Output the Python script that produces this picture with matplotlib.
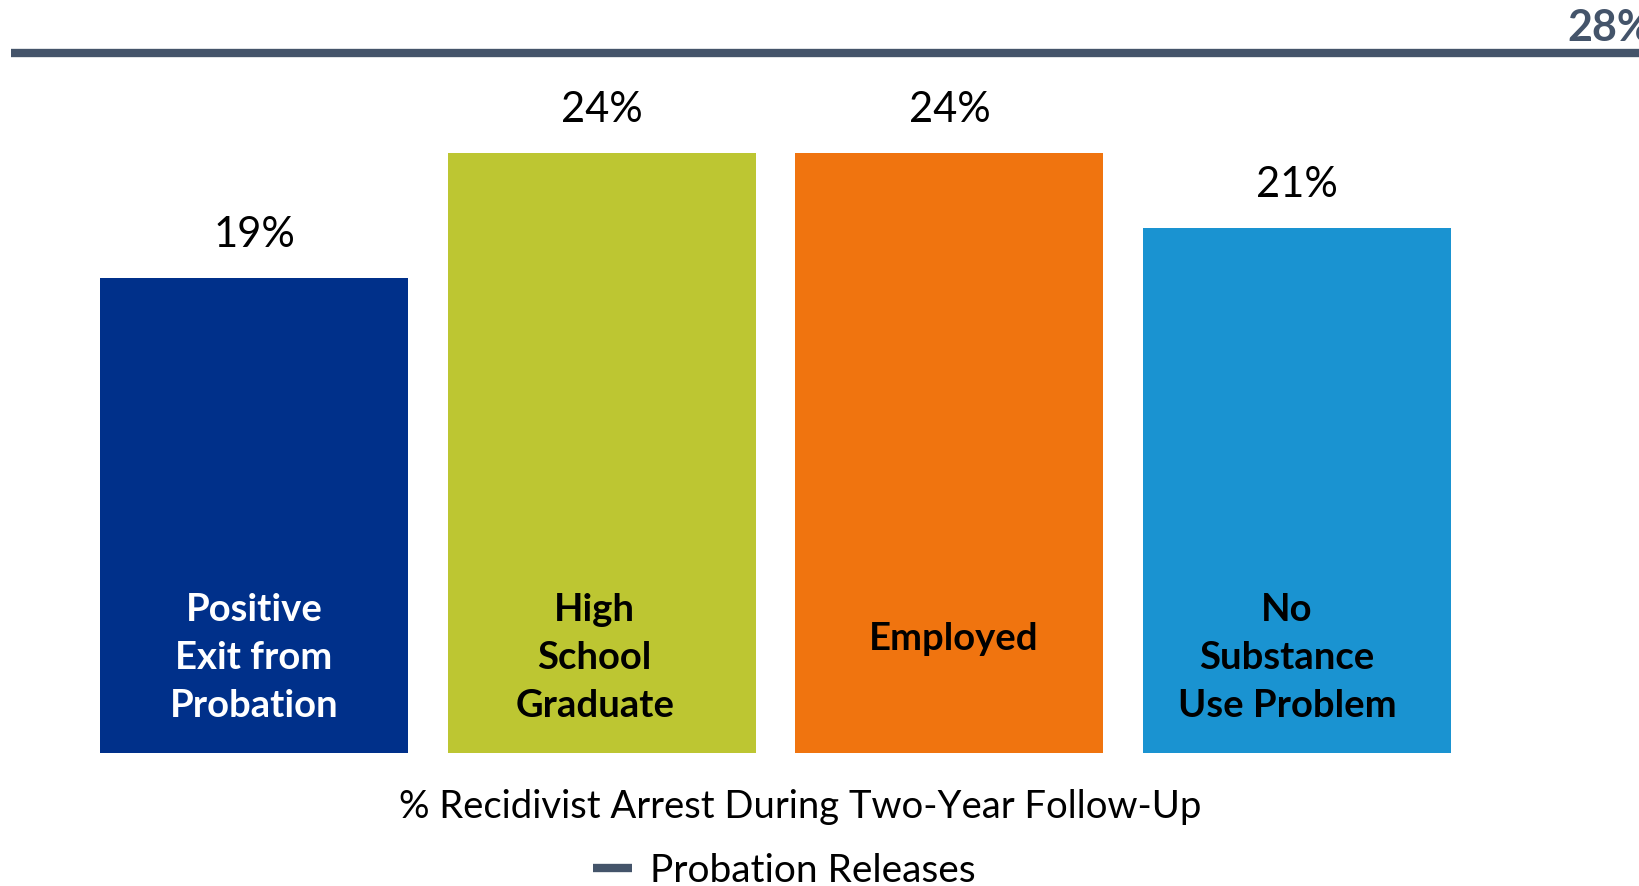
import numpy as np
import matplotlib
matplotlib.use('Agg')
import matplotlib.pyplot as plt

# data
categories = ['Positive\nExit from\nProbation', 'High\nSchool\nGraduate',
              'Employed', 'No\nSubstance\nUse Problem']
rates = [19, 24, 24, 21]
baseline_rate = 28
baseline_name = 'Probation Releases'
axis_title = '% Recidivist Arrest During Two-Year Follow-Up'

bar_colors = ['#00308A', '#BDC632', '#F0740F', '#1A93D1']
label_colors = ['white', 'black', 'black', 'black']
line_color = '#44546A'

plt.rcParams['font.family'] = ['Lato', 'DejaVu Sans']

W, H = 1640, 886
fig = plt.figure(figsize=(W / 100, H / 100), dpi=100)

# axes fill the top of the figure; zero sits at 753 px from the top
px_per_pct = 25.0
zero_px = 753
bar_step = 347.7
first_center = 254
ax = fig.add_axes([0, (H - zero_px) / H, 1, zero_px / H])
ax.set_xlim(-first_center / bar_step, (W - first_center) / bar_step)
ax.set_ylim(0, zero_px / px_per_pct)
ax.axis('off')

x = np.arange(len(rates))
bars = ax.bar(x, rates, width=0.886, color=bar_colors)

for xi, v in zip(x, rates):
    ax.annotate('{0:d}%'.format(v), (xi, v), xytext=(0, 22),
                textcoords='offset points', ha='center', va='baseline',
                fontsize=30, color='black')

# category names inside the bars (y in px from the top, small x nudges in px)
label_py = [658, 658, 639, 658]
label_dx = [0, -7, 4, -10]
for xi, name, py, dx, c in zip(x, categories, label_py, label_dx, label_colors):
    ax.text(xi + dx / bar_step, (zero_px - py) / px_per_pct, name,
            ha='center', va='center', fontsize=27.5, fontweight='bold',
            color=c, linespacing=1.49)

# overall probation-release rate as a reference line
ax.hlines(baseline_rate, -0.70, 5, color=line_color, linewidth=6,
          label=baseline_name, clip_on=False)
ax.annotate('{0:d}%'.format(baseline_rate), (3.776, baseline_rate),
            xytext=(0, 8.5), textcoords='offset points',
            ha='left', va='baseline', fontsize=31, fontweight='bold',
            color=line_color, annotation_clip=False)

fig.text(800 / W, (H - 818) / H, axis_title, ha='center', va='baseline',
         fontsize=27.5, color='black')
fig.legend(loc='center', bbox_to_anchor=(784 / W, (H - 871) / H),
           frameon=False, fontsize=28, handlelength=1.0, handletextpad=0.46,
           borderpad=0)

fig.savefig('out.png', dpi=100)
